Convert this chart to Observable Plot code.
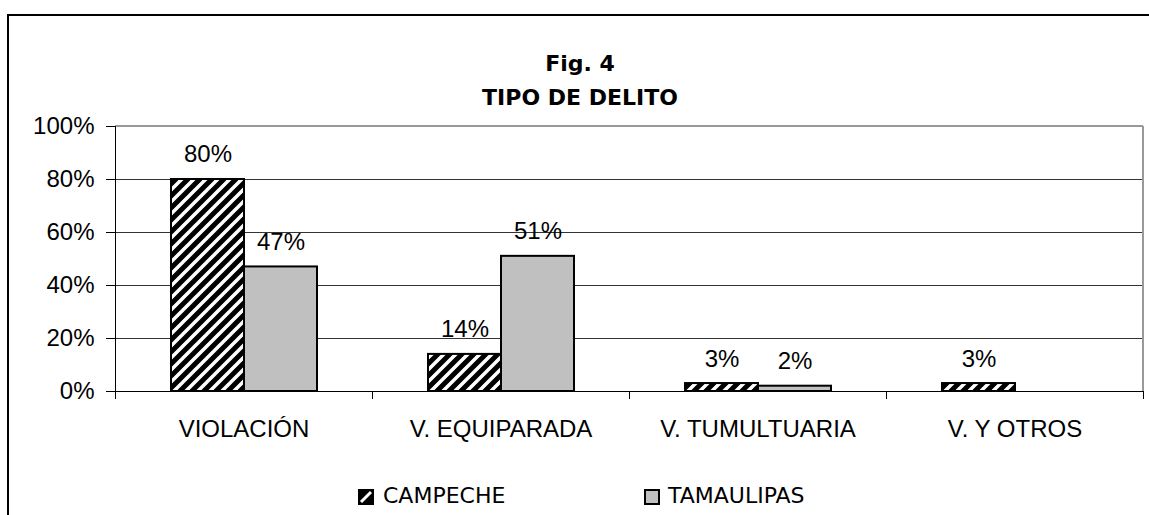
<!DOCTYPE html>
<html>
<head>
<meta charset="utf-8">
<script src="https://cdn.jsdelivr.net/npm/d3@7"></script>
<script src="https://cdn.jsdelivr.net/npm/@observablehq/plot@0.6"></script>
<style>
  html, body { margin: 0; padding: 0; background: #fff; overflow: hidden; }
  #page { position: relative; width: 1149px; height: 515px; overflow: hidden; }
  #frame { position: absolute; left: 7px; top: 14px; width: 1170px; height: 540px; border: 2px solid #000; box-sizing: border-box; }
  #chart { position: absolute; left: 0; top: 0; }
  #chart svg, #chart svg text { font-family: "Liberation Sans", Arial, sans-serif !important; }
  .title { position: absolute; left: 380px; width: 400px; text-align: center; font-family: "DejaVu Sans", sans-serif; font-weight: bold; font-size: 22px; line-height: 22px; color: #000; white-space: nowrap; }
  .leg { position: absolute; font-family: "DejaVu Sans", sans-serif; font-size: 22px; line-height: 22px; color: #000; white-space: nowrap; }
  .sw { position: absolute; }
</style>
</head>
<body>
<div id="page">
  <div id="frame"></div>
  <div id="chart"></div>
  <div class="title" style="top:53px">Fig. 4</div>
  <div class="title" style="top:87px">TIPO DE DELITO</div>
  <svg class="sw" style="left:358px; top:489px" width="16" height="16">
    <rect x="1" y="1" width="14" height="14" fill="#000" stroke="#000" stroke-width="2"/>
    <path d="M3,13 L13,3" stroke="#fff" stroke-width="3"/>
  </svg>
  <div class="leg" style="left:383px; top:485px">CAMPECHE</div>
  <svg class="sw" style="left:644px; top:489px" width="16" height="16">
    <rect x="1" y="1" width="14" height="14" fill="#c0c0c0" stroke="#000" stroke-width="2"/>
  </svg>
  <div class="leg" style="left:668px; top:485px">TAMAULIPAS</div>
</div>
<script>
const categories = ["VIOLACIÓN", "V. EQUIPARADA", "V. TUMULTUARIA", "V. Y OTROS"];
const series = ["CAMPECHE", "TAMAULIPAS"];
const campeche = [0.80, 0.14, 0.03, 0.03];
const tamaulipas = [0.47, 0.51, 0.02, null];
const yTicks = [0, 0.2, 0.4, 0.6, 0.8, 1];
const gridTicks = [0.2, 0.4, 0.6, 0.8];

const rows = categories.flatMap((c, i) => [
  {cat: c, series: series[0], value: campeche[i]},
  {cat: c, series: series[1], value: tamaulipas[i]}
]).filter(d => d.value != null);

const FONT = "'Liberation Sans', Arial, sans-serif";

const plot = Plot.plot({
  width: 1149,
  height: 515,
  marginLeft: 114,
  marginRight: 6,
  marginTop: 126,
  marginBottom: 124,
  style: {fontFamily: FONT, background: "transparent", color: "#000"},
  fx: {domain: categories, padding: 0, label: null, axis: null},
  x: {domain: series, paddingInner: 0, paddingOuter: 0.738, axis: null},
  y: {domain: [0, 1], axis: null},
  marks: [
    Plot.ruleY(gridTicks, {stroke: "#333", strokeWidth: 1}),
    Plot.barY(rows.filter(d => d.series === series[0]), {fx: "cat", x: "series", y: "value", fill: "url(#hatch)", stroke: "#000", strokeWidth: 2}),
    Plot.barY(rows.filter(d => d.series === series[1]), {fx: "cat", x: "series", y: "value", fill: "#c0c0c0", stroke: "#000", strokeWidth: 2}),
    Plot.text(rows, {fx: "cat", x: "series", y: "value", text: d => Math.round(d.value * 100) + "%", lineAnchor: "middle", dy: -24.7, fontSize: 24, fontFamily: FONT, fill: "#000"}),
    Plot.axisY({ticks: yTicks, tickFormat: d => Math.round(d * 100) + "%", tickSize: 9, tickPadding: 12, fontSize: 24, fontFamily: FONT, label: null}),
    Plot.axisFx({anchor: "bottom", tickSize: 0, tickPadding: 28, fontSize: 24, fontFamily: FONT, label: null})
  ]
});

document.getElementById("chart").appendChild(plot);

// hatch pattern
const svg = d3.select(plot);
const defs = svg.insert("defs", ":first-child");
const pat = defs.append("pattern").attr("id", "hatch").attr("patternUnits", "userSpaceOnUse").attr("width", 12).attr("height", 12);
pat.append("rect").attr("width", 12).attr("height", 12).attr("fill", "#000");
pat.append("path").attr("d", "M-3,3 L3,-3 M0,12 L12,0 M9,15 L15,9").attr("stroke", "#fff").attr("stroke-width", 3.5);

// structural lines from the plot's scales
const fx = plot.scale("fx");
const y = plot.scale("y");
const left = fx.apply(categories[0]);
const right = fx.apply(categories[categories.length - 1]) + fx.bandwidth;
const y0 = y.apply(0), y1 = y.apply(1);
const g = svg.append("g").attr("shape-rendering", "crispEdges");
g.append("line").attr("x1", left).attr("x2", right).attr("y1", y1).attr("y2", y1).attr("stroke", "#999").attr("stroke-width", 2);
g.append("line").attr("x1", right).attr("x2", right).attr("y1", y1).attr("y2", y0).attr("stroke", "#999").attr("stroke-width", 2);
g.append("line").attr("x1", left).attr("x2", right).attr("y1", y0).attr("y2", y0).attr("stroke", "#000").attr("stroke-width", 1);
g.append("line").attr("x1", left).attr("x2", left).attr("y1", y1).attr("y2", y0 + 8).attr("stroke", "#000").attr("stroke-width", 1);
categories.slice(1).forEach(c => {
  const bx = fx.apply(c);
  g.append("line").attr("x1", bx).attr("x2", bx).attr("y1", y0).attr("y2", y0 + 8).attr("stroke", "#000").attr("stroke-width", 1);
});
g.append("line").attr("x1", right).attr("x2", right).attr("y1", y0).attr("y2", y0 + 8).attr("stroke", "#000").attr("stroke-width", 1);
</script>
</body>
</html>
